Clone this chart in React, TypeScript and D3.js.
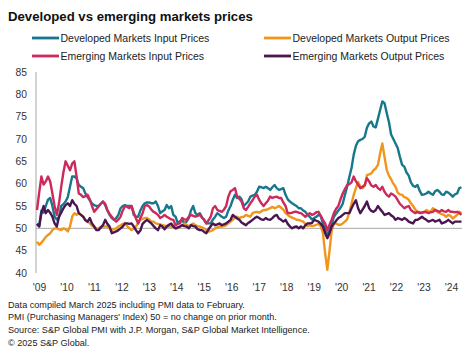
import React from "react";
import * as d3 from "d3";

const yearLabels = ["'09", "'10", "'11", "'12", "'13", "'14", "'15", "'16", "'17", "'18", "'19", "'20", "'21", "'22", "'23", "'24"];
const yTicks = [40, 45, 50, 55, 60, 65, 70, 75, 80, 85];

// Monthly series, Jan 2009 – Feb 2025
const dmInput = [
  51, 50.5, 54, 53.5, 55, 56.4, 56.8, 55, 52.6, 52, 52.5, 55,
  55.4, 56, 57, 59.3, 61.6, 61.6, 61.2, 59.7, 59.3, 59, 57.8, 57,
  56.3, 55.6, 55.2, 55, 55, 55.5, 56, 55.2, 54, 53, 52.3, 51.9,
  52.3, 53, 54.5, 55, 55.2, 55, 55, 55, 53, 52.6, 52.6, 54,
  55, 55.6, 55.8, 55.8, 55.6, 55.6, 56, 55, 53.4, 53.8, 54.1, 55.2,
  54.5, 55, 53, 52.6, 51.1, 51.6, 51.9, 51.1, 51.5, 52.3, 54, 55,
  53.4, 53, 53.4, 52.5, 51.9, 51.1, 51.1, 51.1, 52, 52.6, 53.4, 53,
  52.6, 52.3, 52.6, 54, 55, 56.4, 57.5, 56.8, 57.1, 56.5, 55, 55.5,
  56, 57.1, 57.3, 57.5, 58.2, 59.3, 59.2, 59, 59.3, 59, 58.6, 59.2,
  59.7, 59, 58.6, 58.8, 59, 57.5, 56.5, 56, 55.6, 55.3, 55, 54.5,
  54.5, 54, 53.7, 53, 52.6, 52, 52.3, 52.6, 53, 52.8, 51, 50,
  48.5, 49.5, 51, 52.6, 53.3, 54, 54.6, 55.5, 57.5, 59.3, 61.5, 63.5,
  66.5, 68.5, 69.5, 69.8, 70, 70.5, 72.5, 73.5, 73.9, 72.8, 72.6, 74.5,
  76.5, 78.4, 78, 75.8, 73.8, 71, 70, 69, 68, 66, 64.2, 63.8,
  62.5, 61.8, 60.3, 59.5, 59.3, 59.7, 58.4, 57.5, 57.6, 57.8, 58.2, 57.8,
  57.5, 58.3, 58.6, 58.2, 57.6, 57.5, 58.2, 58, 57.6, 57.1, 57.6, 57.8,
  59, 59.2,
];

const dmOutput = [
  47, 46.3, 46.8, 47.4, 48.1, 48.5, 48.9, 49.6, 50, 50, 49.8, 49.6,
  50, 49.8, 49.3, 50.4, 52.6, 53.4, 53, 53.4, 53, 52.6, 51.9, 51.5,
  51.1, 50.6, 50.4, 50, 50, 50.3, 50.4, 50.4, 50.4, 50, 49.6, 49.8,
  50, 50.4, 50.7, 51, 51.1, 50.5, 50, 49.6, 50, 50.4, 51.2, 51.9,
  52.1, 52.3, 52.3, 52, 51.5, 51.5, 51.1, 51, 50.9, 50.7, 50.6, 50.5,
  50.4, 50.4, 50.2, 50, 50, 50.4, 50.7, 51.1, 50.8, 50.4, 50.8, 51.1,
  50.7, 50.5, 50.4, 50.2, 50, 49.6, 49.3, 49.4, 49.6, 50, 50.2, 50.4,
  50.4, 50.5, 50.7, 51.1, 51.5, 51.9, 52.4, 52.6, 52.3, 52.5, 52.6, 53,
  52.8, 52.6, 53.4, 53.6, 53.7, 53.5, 53.8, 54.1, 54.1, 54.3, 54.5, 54.8,
  54.5, 54.7, 55, 54.6, 54.2, 53.4, 53, 52.6, 52.4, 52.2, 51.9, 51.9,
  51.7, 51.5, 51, 50.5, 50.7, 50.5, 50.6, 50.8, 51, 50.5, 48.9, 44.5,
  40.7, 45, 49.6, 51, 51.1, 50.8, 50.8, 51.1, 51.5, 52, 53.6, 55.5,
  57.5, 59, 60.4, 59.3, 59, 59.5, 61.9, 62.1, 62.3, 63, 63.4, 64.2,
  66.8, 69, 66, 63.1, 61.8, 61, 60, 59.3, 58, 57.6, 57.5, 57,
  56.8, 56.4, 55.6, 55, 54.2, 53.6, 53.7, 53.5, 53.6, 54.1, 53.8, 53.7,
  54.5, 54.2, 53.7, 53.4, 53.2, 53, 52.6, 53, 52.8, 52.2, 52.6, 53,
  53.7, 53.4,
];

const emInput = [
  54.1, 58, 61.6, 59.8, 60.5, 61.6, 60.5, 57.8, 55, 53, 55.6, 59.3,
  62.5, 65, 64, 63, 64.5, 65, 61.6, 57.8, 57.5, 57, 57.2, 57.5,
  56.5, 55, 53.7, 54.3, 54.9, 55.5, 56, 55.5, 54.1, 53.2, 52.6, 52,
  51.5, 52, 52.6, 54, 55, 54.8, 54.5, 55, 53.5, 52.2, 51.1, 52.3,
  53.4, 55, 55.2, 54.9, 54.2, 53.7, 53.4, 53, 52.3, 52.6, 53, 52.6,
  52.3, 52, 51.9, 50.7, 51, 51.1, 52.3, 52, 51.9, 52.6, 53, 52.8,
  52.6, 52.8, 53, 52.4, 51.9, 51.1, 51.8, 52.6, 54.5, 55, 54.1, 53.9,
  53.7, 54.2, 55, 57.1, 58.3, 58.6, 59, 57.1, 56.6, 56, 54.5, 54.1,
  54.8, 55.6, 56.3, 57.1, 57.5, 56.4, 55.6, 55, 55.6, 56.2, 57.1, 56.8,
  57, 57.1, 56.8, 56.8, 55.8, 55, 53.4, 53.4, 53.5, 53.7, 53.7, 53.5,
  53.4, 53, 52.6, 53, 53.4, 53, 53.2, 53.6, 53.7, 52.8, 51.9, 51.1,
  49.6, 50.8, 52, 53.4, 54.4, 55, 56.5, 57.8, 58.8, 59.7, 59.9, 60.3,
  61.6, 60.5, 59.8, 59, 59.3, 59.7, 61.2, 60.5, 59.6, 59.3, 59.7, 59,
  58.6, 59.3, 58.2, 57.5, 57.1, 57.8, 57.5, 57.1, 56.3, 55.5, 55, 54.5,
  54.8, 55, 54.1, 53.7, 53.4, 53.7, 53.4, 53.5, 53.7, 53.6, 53.4, 53.6,
  53.7, 54.1, 53.9, 53.7, 54.1, 53.8, 53.7, 54.1, 53.7, 53.7, 53.6, 53.7,
  53.4, 53,
];

const emOutput = [
  51, 50.4, 53.4, 55, 53.4, 54.1, 53.5, 52.6, 51.1, 50.4, 52.6, 53.5,
  54.5, 55.2, 55.6, 55, 56.3, 55.5, 55, 53.4, 53, 52.6, 51.8, 51.5,
  52.3, 51.1, 50.4, 49.6, 49.6, 50.2, 50.7, 51.9, 51, 50.4, 48.9, 49.1,
  49.3, 49.6, 50, 50.4, 51.1, 51.1, 51, 51.1, 50.4, 49.6, 48.9, 49.5,
  51, 51.5, 51.9, 51.5, 51.1, 50.5, 50, 49.6, 50.7, 50.4, 49.8, 50.4,
  50.8, 51.1, 50.4, 50, 50.2, 50.4, 50.7, 50.5, 50.4, 50, 50.7, 50.5,
  50.4, 49.8, 49.6, 49.6, 49.2, 48.9, 49.8, 50.5, 51.1, 50.7, 50.9, 51.1,
  50.7, 50.9, 51.1, 51.5, 51.9, 53, 52.6, 52.2, 51.9, 51.3, 51, 50.7,
  51.2, 51.5, 51.9, 52.3, 52.6, 52.3, 52, 51.9, 52.3, 52, 51.9, 52.3,
  52.8, 53, 52.2, 51.9, 51.5, 51.9, 51, 50.4, 50, 50.3, 50.4, 50,
  50.4, 50, 50.7, 51.1, 51.1, 51.2, 51.9, 51.7, 51.5, 51, 50.4, 48.9,
  47.8, 48.9, 50.4, 51.1, 51.7, 52.3, 52.6, 53, 53.4, 53.4, 53.4, 54.5,
  55.5, 56.3, 54.5, 53.4, 54.2, 55, 56, 54.5, 53.9, 53.7, 54.1, 55,
  54.3, 53.7, 53, 53.2, 53.4, 52.9, 52.6, 51.9, 52.3, 52.1, 51.9, 52.3,
  52, 51.5, 51.3, 51.1, 51.9, 51.9, 52.2, 52.6, 52.2, 51.9, 51.5, 51.7,
  51.9, 51.5, 51.7, 51.9, 51.1, 51.3, 51.5, 51.9, 51.5, 51.1, 51.5, 51.5,
  51.5, 51.5,
];

const seriesNames = [
  "Developed Markets Input Prices",
  "Developed Markets Output Prices",
  "Emerging Markets Input Prices",
  "Emerging Markets Output Prices",
];
const seriesColors = ["#17788c", "#f0961c", "#cc2a5c", "#4a1652"];
const seriesData = [dmInput, dmOutput, emInput, emOutput];

const footnotes = [
  "Data compiled March 2025 including PMI data to February.",
  "PMI (Purchasing Managers' Index) 50 = no change on prior month.",
  "Source: S&P Global PMI with J.P. Morgan, S&P Global Market Intelligence.",
  "\u00A9 2025 S&P Global.",
];

export default function App() {
  const W = 472;
  const H = 364;
  const n = dmInput.length;
  const x = d3.scaleLinear().domain([0, n - 1]).range([37, 461.5]);
  const y = d3.scaleLinear().domain([40, 85]).range([273, 72]);
  const xl = d3.scalePoint<string>().domain(yearLabels).range([39.5, 451.5]);
  const line = d3
    .line<number>()
    .x((_, i) => x(i))
    .y((v) => y(v))
    .curve(d3.curveLinear);
  const font = "Liberation Sans, Arial, Helvetica, sans-serif";
  const legendPos = [
    [32, 38],
    [264, 38],
    [32, 56],
    [264, 56],
  ];

  return (
    <div style={{ position: "absolute", left: 0, top: 0 }}>
      <svg width={W} height={H} style={{ display: "block", background: "#fff" }} fontFamily={font}>
        <text x={8} y={21} fontSize={13.2} fontWeight="bold" fill="#111">
          Developed vs emerging markets prices
        </text>
        {seriesNames.map((name, i) => (
          <g key={name}>
            <line
              x1={legendPos[i][0]}
              x2={legendPos[i][0] + 27}
              y1={legendPos[i][1]}
              y2={legendPos[i][1]}
              stroke={seriesColors[i]}
              strokeWidth={2.8}
            />
            <text x={legendPos[i][0] + 28.5} y={legendPos[i][1] + 3.7} fontSize={10.5} fill="#222">
              {name}
            </text>
          </g>
        ))}
        {yTicks.map((t) => (
          <text key={t} x={27} y={y(t)} dy="0.35em" textAnchor="end" fontSize={10.3} fill="#333">
            {t}
          </text>
        ))}
        <line x1={36} x2={36} y1={y(85)} y2={y(40)} stroke="#a6a6a6" strokeWidth={1} />
        <line x1={36} x2={462} y1={y(50)} y2={y(50)} stroke="#a6a6a6" strokeWidth={1} />
        {yearLabels.map((l) => (
          <text key={l} x={xl(l)} y={290.5} textAnchor="middle" fontSize={10.3} fill="#333">
            {l}
          </text>
        ))}
        {seriesData.map((d, i) => (
          <path key={i} d={line(d) || ""} fill="none" stroke={seriesColors[i]} strokeWidth={2.4} strokeLinejoin="round" />
        ))}
        {footnotes.map((f, i) => (
          <text key={i} x={8} y={307.5 + i * 12.7} fontSize={9.1} fill="#222">
            {f}
          </text>
        ))}
      </svg>
    </div>
  );
}
